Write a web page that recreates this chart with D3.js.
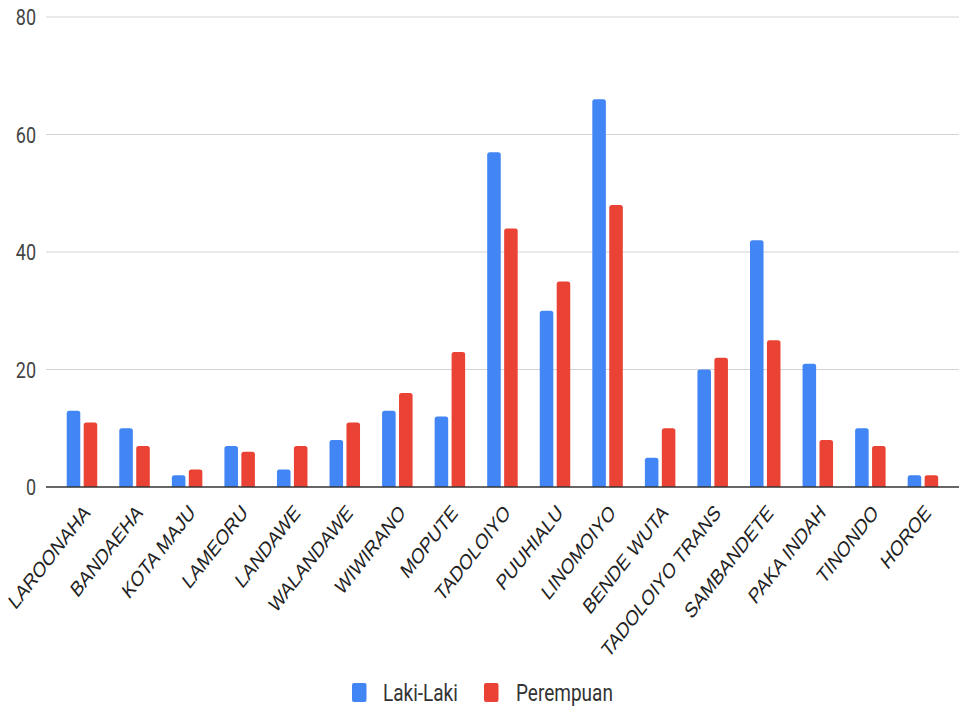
<!DOCTYPE html>
<html>
<head>
<meta charset="utf-8">
<script src="https://cdn.jsdelivr.net/npm/d3@7"></script>
<style>
  html, body { margin: 0; padding: 0; background: #fff; }
  svg { display: block; }
</style>
</head>
<body>
<svg id="chart" width="965" height="707"></svg>
<script>
const categories = ["LAROONAHA","BANDAEHA","KOTA MAJU","LAMEORU","LANDAWE","WALANDAWE","WIWIRANO","MOPUTE","TADOLOIYO","PUUHIALU","LINOMOIYO","BENDE WUTA","TADOLOIYO TRANS","SAMBANDETE","PAKA INDAH","TINONDO","HOROE"];
const seriesNames = ["Laki-Laki","Perempuan"];
const lakiLaki  = [13,10,2,7,3,8,13,12,57,30,66,5,20,42,21,10,2];
const perempuan = [11,7,3,6,7,11,16,23,44,35,48,10,22,25,8,7,2];
const yTicks = [0,20,40,60,80];
const colors = ["#4285F4","#EA4335"];

const svg = d3.select("#chart");
const S = 1.25; // vertical text stretch of the reference

const y = d3.scaleLinear().domain([0,80]).range([487,17]);
const x = d3.scaleBand().domain(categories).range([55.7,949.2]).padding(0);
const groupW = 30.5;
const xs = d3.scaleBand().domain(seriesNames).range([0,groupW]).paddingInner(0.2);

// gridlines
svg.append("g").selectAll("line").data(yTicks.filter(t => t !== 0)).join("line")
  .attr("x1",46).attr("x2",959)
  .attr("y1",d=>y(d)).attr("y2",d=>y(d))
  .attr("stroke","#d3d3d3").attr("stroke-width",1.2);

// y labels
svg.append("g").selectAll("text").data(yTicks).join("text")
  .attr("transform", d => `translate(36,${y(d)}) scale(1,${S})`)
  .attr("text-anchor","end").attr("dy","0.36em")
  .attr("font-family","Roboto, sans-serif").attr("font-size",18)
  .attr("fill","#444").text(d=>d);

// bars with rounded top corners
function barPath(x0, w, yTop, yBase, r) {
  r = Math.min(r, w/2, Math.max(0,(yBase-yTop)));
  return `M${x0},${yBase}V${yTop+r}Q${x0},${yTop} ${x0+r},${yTop}H${x0+w-r}Q${x0+w},${yTop} ${x0+w},${yTop+r}V${yBase}Z`;
}
const data = categories.map((c,i)=>({c, vals:[lakiLaki[i], perempuan[i]]}));
const groups = svg.append("g").selectAll("g").data(data).join("g")
  .attr("transform", d => `translate(${x(d.c) + x.bandwidth()/2 - groupW/2},0)`);
groups.selectAll("path").data(d => d.vals.map((v,j)=>({v, s:seriesNames[j], j}))).join("path")
  .attr("d", d => barPath(xs(d.s), xs.bandwidth(), y(d.v), y(0), 2.5))
  .attr("fill", d => colors[d.j]);

// baseline
svg.append("line").attr("x1",46).attr("x2",959).attr("y1",y(0)).attr("y2",y(0))
  .attr("stroke","#333").attr("stroke-width",1.4);

// x labels
svg.append("g").selectAll("text").data(categories).join("text")
  .attr("transform", d => `translate(${x(d)+x.bandwidth()/2+9},514) scale(1,1.28) rotate(-45)`)
  .attr("text-anchor","end")
  .attr("font-family","'Liberation Sans', Arial, sans-serif").attr("font-size",17)
  .attr("fill","#222").text(d=>d);

// legend
const legend = [
  {name: seriesNames[0], color: colors[0], rx: 352, tx: 383},
  {name: seriesNames[1], color: colors[1], rx: 484, tx: 516}
];
const lg = svg.append("g");
lg.selectAll("rect").data(legend).join("rect")
  .attr("x", d=>d.rx).attr("y",683).attr("width",14.5).attr("height",19)
  .attr("rx",2).attr("fill", d=>d.color);
lg.selectAll("text").data(legend).join("text")
  .attr("transform", d => `translate(${d.tx},692.5) scale(1,${S})`)
  .attr("dy","0.36em")
  .attr("font-family","Roboto, sans-serif").attr("font-size",19)
  .attr("fill","#333").text(d=>d.name);
</script>
</body>
</html>
